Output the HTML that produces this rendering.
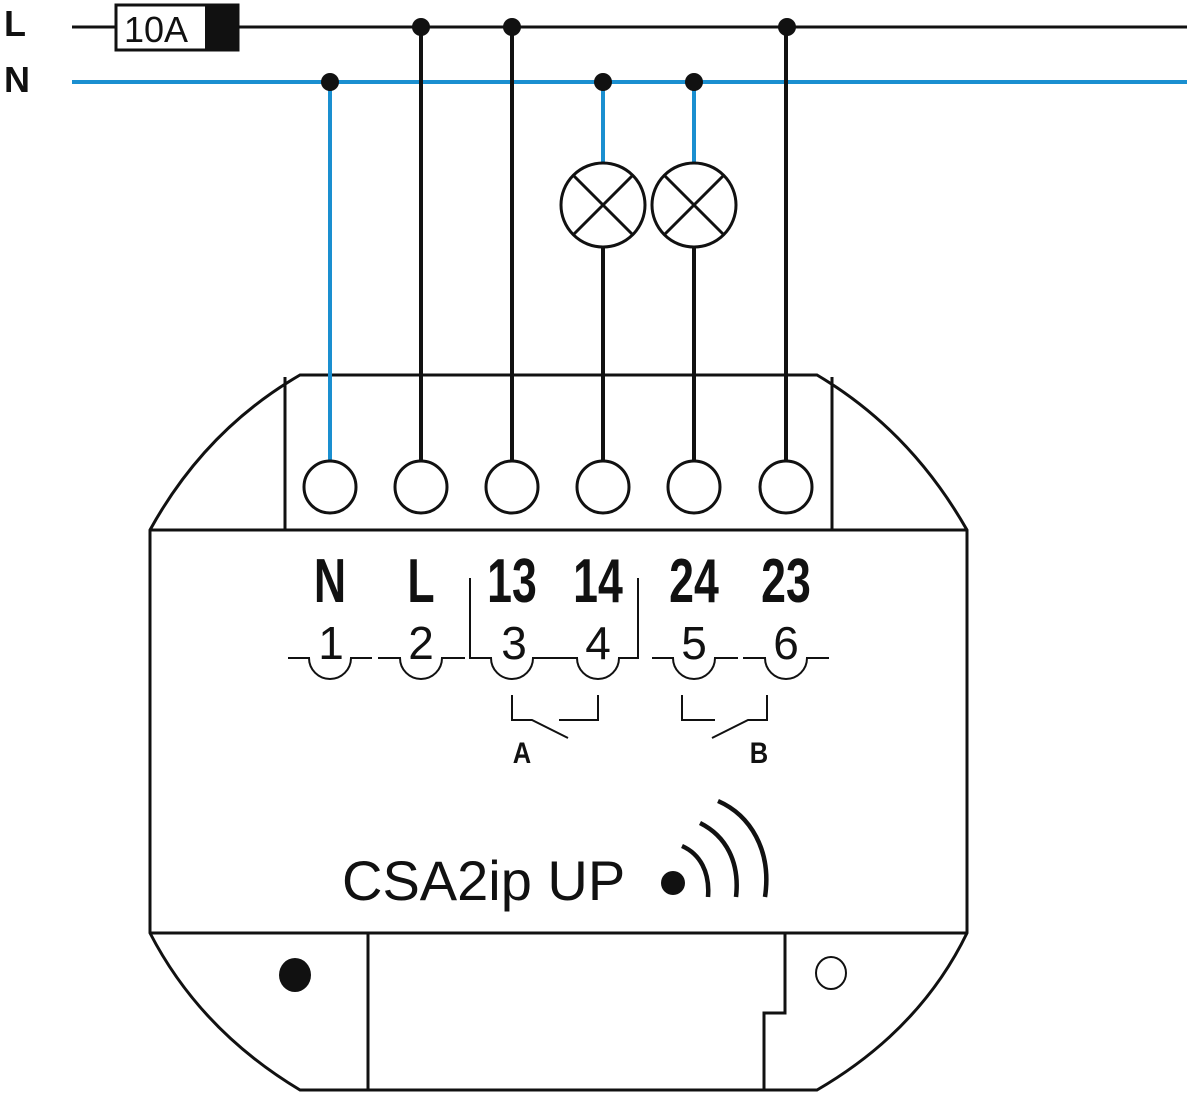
<!DOCTYPE html>
<html><head><style>html,body{margin:0;padding:0;background:#fff}</style></head><body>
<svg width="1187" height="1096" viewBox="0 0 1187 1096" xmlns="http://www.w3.org/2000/svg" font-family="Liberation Sans, sans-serif">
<g fill="none" stroke="#111" stroke-width="3">
<path d="M300,375 L817,375 Q910,430 967,530 L967,933 Q920,1030 817,1090 L300,1090 Q200,1030 150,933 L150,530 Q205,430 300,375 Z"/>
<line x1="150" y1="530" x2="967" y2="530"/>
<line x1="150" y1="933" x2="967" y2="933"/>
<line x1="285" y1="377" x2="285" y2="530"/>
<line x1="832" y1="377" x2="832" y2="530"/>
<line x1="368" y1="933" x2="368" y2="1090"/>
<polyline points="785,933 785,1013 764,1013 764,1090"/>
</g>
<line x1="72" y1="27" x2="1187" y2="27" stroke="#111" stroke-width="3"/>
<line x1="72" y1="82" x2="1187" y2="82" stroke="#1a8fd0" stroke-width="4"/>
<rect x="116" y="5" width="122" height="45" fill="#fff" stroke="#111" stroke-width="3"/>
<rect x="205" y="5" width="33" height="45" fill="#111"/>
<text x="124" y="42" font-size="36" fill="#111">10A</text>
<text x="4" y="36" font-size="36" font-weight="bold" fill="#111">L</text>
<text x="4" y="92" font-size="36" font-weight="bold" fill="#111">N</text>
<g stroke-width="4">
<line x1="330" y1="82" x2="330" y2="461" stroke="#1a8fd0"/>
<line x1="421" y1="27" x2="421" y2="461" stroke="#111"/>
<line x1="512" y1="27" x2="512" y2="461" stroke="#111"/>
<line x1="786" y1="27" x2="786" y2="461" stroke="#111"/>
<line x1="603" y1="82" x2="603" y2="163" stroke="#1a8fd0"/>
<line x1="694" y1="82" x2="694" y2="163" stroke="#1a8fd0"/>
<line x1="603" y1="247" x2="603" y2="461" stroke="#111"/>
<line x1="694" y1="247" x2="694" y2="461" stroke="#111"/>
</g>
<g fill="#111">
<circle cx="330" cy="82" r="9"/><circle cx="421" cy="27" r="9"/><circle cx="512" cy="27" r="9"/>
<circle cx="603" cy="82" r="9"/><circle cx="694" cy="82" r="9"/><circle cx="787" cy="27" r="9"/>
</g>
<g fill="#fff" stroke="#111" stroke-width="3">
<circle cx="603" cy="205" r="42"/><circle cx="694" cy="205" r="42"/>
<path d="M573,175 L633,235 M633,175 L573,235 M664,175 L724,235 M724,175 L664,235"/>
</g>
<g fill="#fff" stroke="#111" stroke-width="3">
<circle cx="330" cy="487" r="26"/><circle cx="421" cy="487" r="26"/><circle cx="512" cy="487" r="26"/>
<circle cx="603" cy="487" r="26"/><circle cx="694" cy="487" r="26"/><circle cx="786" cy="487" r="26"/>
</g>
<g font-size="62" font-weight="bold" fill="#111" text-anchor="middle">
<text transform="translate(330,602) scale(0.72,1)">N</text>
<text transform="translate(421,602) scale(0.72,1)">L</text>
<text transform="translate(512,602) scale(0.72,1)">13</text>
<text transform="translate(598,602) scale(0.72,1)">14</text>
<text transform="translate(694,602) scale(0.72,1)">24</text>
<text transform="translate(786,602) scale(0.72,1)">23</text>
</g>
<g font-size="46" fill="#111" text-anchor="middle">
<text x="331" y="659">1</text><text x="421" y="659">2</text><text x="514" y="659">3</text>
<text x="598" y="659">4</text><text x="694" y="659">5</text><text x="786" y="659">6</text>
</g>
<g fill="none" stroke="#111" stroke-width="2">
<path d="M288,658 H309 A21,21 0 0 0 351,658 H372"/>
<path d="M378,658 H400 A21,21 0 0 0 442,658 H465"/>
<path d="M470,578 V658 H491 A21,21 0 0 0 533,658 H577 A21,21 0 0 0 619,658 H638 V578"/>
<path d="M652,658 H673 A21,21 0 0 0 715,658 H738"/>
<path d="M743,658 H765 A21,21 0 0 0 807,658 H829"/>
<polyline points="512,695 512,720 532,720 568,738"/>
<polyline points="559,720 598,720 598,695"/>
<polyline points="682,695 682,720 715,720"/>
<polyline points="712,738 748,720 767,720 767,695"/>
</g>
<text font-size="30" font-weight="bold" text-anchor="middle" fill="#111" transform="translate(522,763) scale(0.85,1)">A</text>
<text font-size="30" font-weight="bold" text-anchor="middle" fill="#111" transform="translate(759,763) scale(0.85,1)">B</text>
<text x="342" y="900" font-size="56" fill="#111">CSA2ip UP</text>
<circle cx="673" cy="883" r="12" fill="#111"/>
<g fill="none" stroke="#111" stroke-width="4.5">
<path d="M682,846 C700,854 710,872 708,897"/>
<path d="M700,823 C726,836 740,862 736,897"/>
<path d="M718,801 C750,815 772,850 765,897"/>
</g>
<ellipse cx="295" cy="975" rx="16" ry="17" fill="#111"/>
<ellipse cx="831" cy="973" rx="15" ry="16" fill="#fff" stroke="#111" stroke-width="2"/>
</svg>
</body></html>
